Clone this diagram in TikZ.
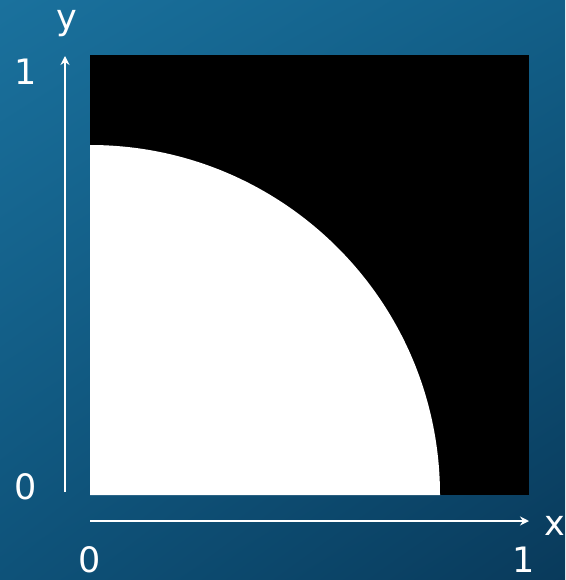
\documentclass[tikz,border=0pt]{standalone}
\usepackage{fontspec}
\setmainfont{DejaVu Sans}
\usetikzlibrary{arrows.meta,shadings}
\definecolor{bgTL}{HTML}{1A719D}
\definecolor{bgTR}{HTML}{125F88}
\definecolor{bgBL}{HTML}{0E5279}
\definecolor{bgBR}{HTML}{093A5B}
\tikzset{
  axis/.style={draw=white, line width=1.6pt, -{Stealth[length=9pt,width=9pt,inset=3pt]}},
  lbl/.style={text=white, font=\fontsize{35}{35}\selectfont, inner sep=0pt, anchor=center}
}
\begin{document}
\begin{tikzpicture}[x=1pt,y=-1pt]
\useasboundingbox (0,0) rectangle (565,580);
\shade[upper left=bgTL, upper right=bgTR, lower left=bgBL, lower right=bgBR] (0,0) rectangle (565,580);
\fill[black] (90,55) rectangle (529,495);
\fill[white] (90,495) -- (90,145) arc[start angle=-90, end angle=0, radius=350] -- cycle;
\coordinate (ys) at (65,492);
\coordinate (ye) at (65,56);
\coordinate (xs) at (90,521);
\coordinate (xe) at (529,521);
\draw[axis] (ys) -- (ye);
\draw[axis] (xs) -- (xe);
\node[lbl] (ylab) at (67,24) {y};
\node[lbl] (y1) at (26,72) {1};
\node[lbl] (y0) at (26,487) {0};
\node[lbl] (xlab) at (555,526) {x};
\node[lbl] (x0) at (90,560) {0};
\node[lbl] (x1) at (524,560) {1};
\end{tikzpicture}
\end{document}
